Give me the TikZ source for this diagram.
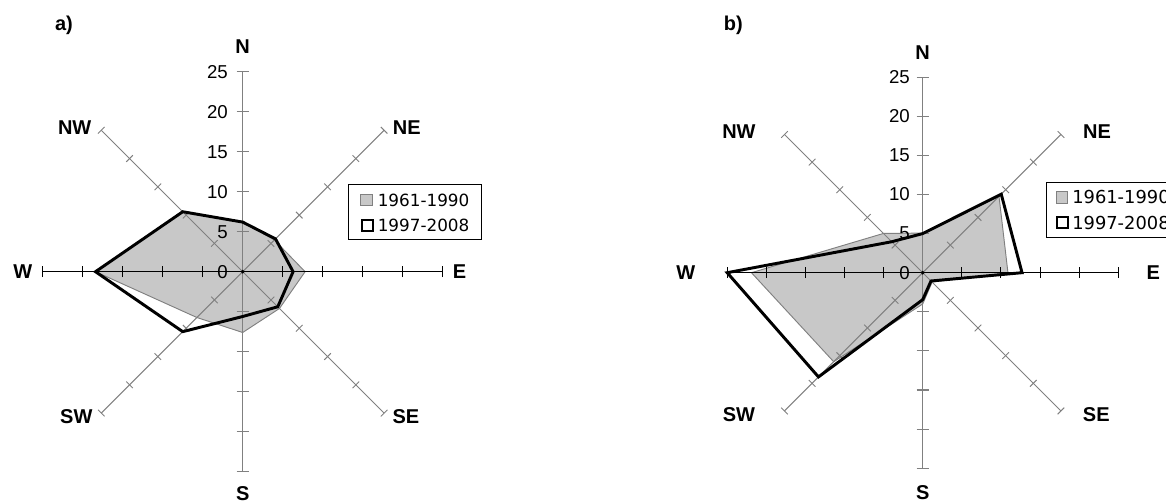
\documentclass[tikz,border=0pt]{standalone}
\usepackage{fontspec}
\setmainfont{Liberation Sans}
\newfontfamily\legfont{DejaVu Sans}
\definecolor{oldfill}{RGB}{200,200,200}
\definecolor{axisgray}{RGB}{128,128,128}
\tikzset{
	spoke/.style={axisgray, line width=0.7pt},
	oldrose/.style={fill=oldfill, draw=axisgray, line width=0.7pt},
	newrose/.style={draw=black, line width=2.2pt},
	dirlabel/.style={font=\fontsize{15}{15}\selectfont\bfseries},
	ticklabel/.style={font=\fontsize{14}{14}\selectfont, anchor=east, inner sep=0pt},
	legtext/.style={font=\legfont\fontsize{12.6}{12.6}\selectfont, anchor=west, inner sep=0pt}
}
% axes of one rose, 25 units long, a tick every 5 units
\def\roseaxes{
	\foreach \a in {45,135,225,315} {
		\draw[spoke] (0,0) -- (\a:25);
		\foreach \t in {5,10,...,25} \draw[spoke] (\a:\t) ++({\a+90}:3.5pt) -- ++({\a-90}:7pt);
	}
	\draw[axisgray, line width=1pt] (-90:25) -- (90:25);
	\foreach \t in {5,10,...,25} {
		\draw[axisgray, line width=0.8pt] (90:\t) ++(-4.5pt,0) -- ++(9pt,0);
		\draw[axisgray, line width=0.8pt] (-90:\t) ++(-4.5pt,0) -- ++(9pt,0);
	}
	\draw[black, line width=0.7pt] (180:25) -- (0:25);
	\foreach \t in {5,10,...,25} {
		\draw[black, line width=0.7pt] (0:\t) ++(0,-4pt) -- ++(0,8pt);
		\draw[black, line width=0.7pt] (180:\t) ++(0,-4pt) -- ++(0,8pt);
	}
}
\def\roseticks#1{
	\foreach \t in {0,5,...,25} \node[ticklabel, xshift=-#1] (t\t) at (0,\t) {\t};
}

\begin{document}
\begin{tikzpicture}[x=0.75pt,y=0.75pt]
	%%%%% START %%%%%
	\clip (0,0) rectangle (1166,502);

	%% a)
	\begin{scope}[shift={(242.7,230.3)}, x=6pt, y=6pt]
		\draw[oldrose] (90:6.2) -- (45:5.6) -- (0:7.8) -- (-45:6.5) -- (-90:7.6) -- (-135:8.1) -- (180:18.4) -- (135:10.6) -- cycle;
		\roseaxes
		\roseticks{11pt}
		\draw[newrose] (90:6.2) -- (45:5.8) -- (0:6.3) -- (-45:6.2) -- (-90:5.6) -- (-135:10.6) -- (180:18.4) -- (135:10.6) -- cycle;
		\draw[fill=black] (0,0) circle (1.2pt);

		\node[dirlabel] (nA) at (0,28.1) {N};
		\node[dirlabel] (neA) at (20.5,18) {NE};
		\node[dirlabel] (eA) at (27.1,0) {E};
		\node[dirlabel] (seA) at (20.4,-18.1) {SE};
		\node[dirlabel] (sA) at (0,-27.7) {S};
		\node[dirlabel] (swA) at (-20.8,-18.1) {SW};
		\node[dirlabel] (wA) at (-27.5,0) {W};
		\node[dirlabel] (nwA) at (-21,18) {NW};
	\end{scope}

	\draw[black, line width=0.7pt] (348.3,262.7) rectangle (481.7,317.7);
	\draw[oldrose] (360.7,296.3) rectangle (372.2,307.8);
	\draw[black, line width=1.5pt] (361.5,271) rectangle (372.5,282);
	\node[legtext] (oldA) at (377.5,302) {1961-1990};
	\node[legtext] (newA) at (377.5,276.5) {1997-2008};
	\node[dirlabel] (panelA) at (64,476.3) {a)};

	%% b)
	\begin{scope}[shift={(922.7,229.3)}, x=5.865pt, y=5.865pt]
		\draw[oldrose] (90:5.06) -- (45:13.8) -- (0:10.9) -- (-45:1.7) -- (-90:4.0) -- (-135:16.1) -- (180:21.9) -- (135:7.1) -- cycle;
		\roseaxes
		\roseticks{9.5pt}
		\draw[newrose] (90:5.0) -- (45:14.2) -- (0:12.7) -- (-45:1.5) -- (-90:3.45) -- (-135:18.85) -- (180:25) -- (135:5.6) -- cycle;
		\draw[fill=black] (0,0) circle (1.2pt);

		\node[dirlabel] (nB) at (0,28.1) {N};
		\node[dirlabel] (neB) at (22.3,18) {NE};
		\node[dirlabel] (eB) at (29.5,0) {E};
		\node[dirlabel] (seB) at (22.2,-18.2) {SE};
		\node[dirlabel] (sB) at (0,-28.1) {S};
		\node[dirlabel] (swB) at (-23.5,-18.2) {SW};
		\node[dirlabel] (wB) at (-30.3,0) {W};
		\node[dirlabel] (nwB) at (-23.5,18.1) {NW};
	\end{scope}

	\draw[black, line width=0.7pt] (1046,264.7) rectangle (1180,319.3);
	\draw[oldrose] (1056,298.7) rectangle (1067.7,310.2);
	\draw[black, line width=1.5pt] (1056.8,273.5) rectangle (1068,284.5);
	\node[legtext, font=\legfont\fontsize{13.4}{13.4}\selectfont] (oldB) at (1072,304.5) {1961-1990};
	\node[legtext, font=\legfont\fontsize{13.4}{13.4}\selectfont] (newB) at (1072,279) {1997-2008};
	\node[dirlabel] (panelB) at (733.3,477) {b)};
	%%%%% END %%%%%
\end{tikzpicture}
\end{document}
